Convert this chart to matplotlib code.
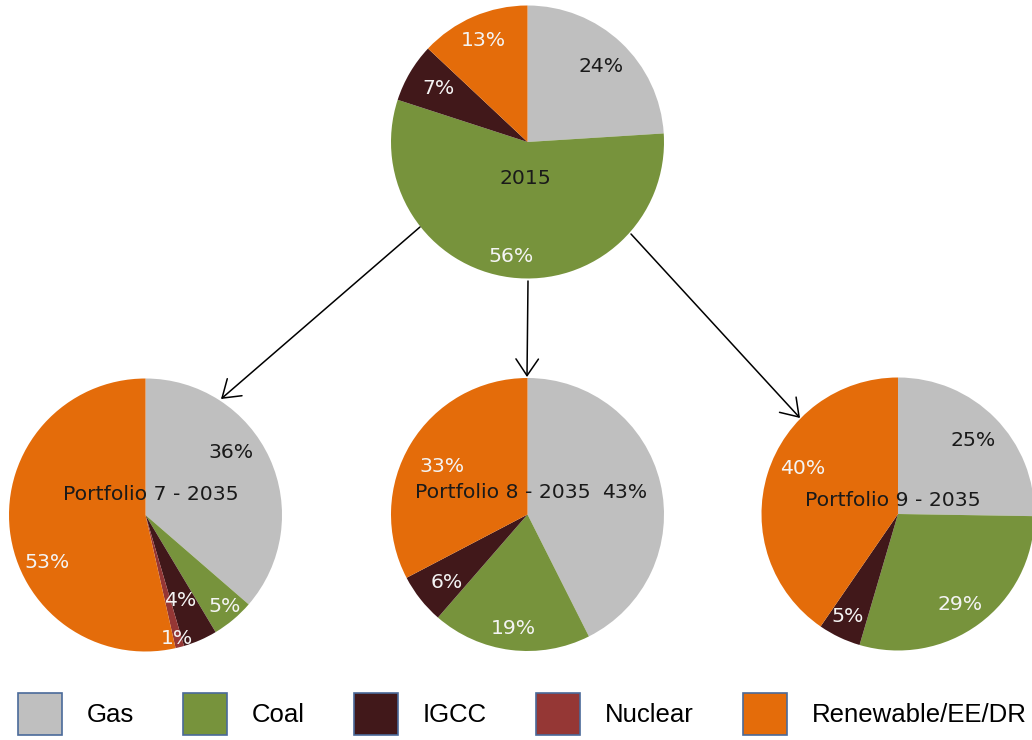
import matplotlib
matplotlib.use("Agg")
import matplotlib.pyplot as plt
from matplotlib.patches import Patch

# data (share of capacity, %), wedges run clockwise from 12 o'clock
SOURCES = ["Gas", "Coal", "IGCC", "Nuclear", "Renewable/EE/DR"]
COLORS = ["#bfbfbf", "#77933c", "#41181a", "#953735", "#e46c0a"]
TITLES = ["2015", "Portfolio 7 - 2035", "Portfolio 8 - 2035", "Portfolio 9 - 2035"]
MIX_2015 = [24, 56, 7, 0, 13]
MIX_P7 = [36, 5, 4, 1, 53]
MIX_P8 = [43, 19, 6, 0, 33]
MIX_P9 = [25, 29, 5, 0, 40]
MIXES = [MIX_2015, MIX_P7, MIX_P8, MIX_P9]

# layout in pixel units (y measured from top of the 1032x740 canvas)
W, H = 1032, 740
CENTERS = [(527.5, 142), (145.5, 515), (527.5, 514.5), (898, 514)]
RADIUS = 136.5
# label offsets from each pie centre (px, y up), Excel "best fit" style
LABEL_OFF = [
    [(74, 75), (-17, -115), (-88.5, 53), None, (-44.5, 101)],
    [(85, 62), (79.5, -92), (34.5, -86), (31.5, -123), (-98, -48)],
    [(97.5, 21.5), (-14.5, -113.5), (-81, -68.5), None, (-85.5, 47.5)],
    [(75, 73), (62.5, -91), (-50, -103), None, (-95, 45)],
]
TITLE_OFF = [(-2.5, -37), (5.5, 20), (-24.5, 21.5), (-5.5, 14)]
ARROWS = [((420, 227), (221, 399)), ((528, 281), (527, 377)), ((631, 234), (800, 418))]

INK = "#1a1a1a"
FS = 14.7
fig = plt.figure(figsize=(W / 100, H / 100), dpi=100)
ax = fig.add_axes([0, 0, 1, 1])

for mix, (cx, cy), offs, title, toff in zip(MIXES, CENTERS, LABEL_OFF, TITLES, TITLE_OFF):
    cyu = H - cy
    ax.pie(mix, colors=COLORS, startangle=90, counterclock=False, center=(cx, cyu),
           radius=RADIUS, frame=True, wedgeprops=dict(linewidth=0))
    for i, (v, off) in enumerate(zip(mix, offs)):
        if v == 0 or off is None:
            continue
        ax.text(cx + off[0], cyu + off[1], f"{v}%", ha="center", va="center", fontsize=FS,
                color=INK if i == 0 else "#f4f4f4", family="DejaVu Sans")
    ax.text(cx + toff[0], cyu + toff[1], title, ha="center", va="center", fontsize=FS,
            color=INK, family="DejaVu Sans")

for (x0, y0), (x1, y1) in ARROWS:
    ax.annotate("", xy=(x1, H - y1), xytext=(x0, H - y0),
                arrowprops=dict(arrowstyle="->, head_length=0.4, head_width=0.27", color="black",
                                lw=1.1, mutation_scale=30, shrinkA=0, shrinkB=0))

ax.set_xlim(0, W); ax.set_ylim(0, H)
ax.set_aspect("equal")
ax.axis("off")

handles = [Patch(facecolor=c, edgecolor="#4a6a9a", linewidth=1.2, label=s) for s, c in zip(SOURCES, COLORS)]
fig.legend(handles=handles, loc="lower left", bbox_to_anchor=(18 / W, 5 / H), ncol=5, frameon=False,
           prop={"family": "Liberation Sans", "size": 18.5}, handlelength=1.71, handleheight=2.14,
           handletextpad=0.97, columnspacing=1.91, borderpad=0, borderaxespad=0)

fig.savefig("out.png", dpi=100, facecolor="white")
